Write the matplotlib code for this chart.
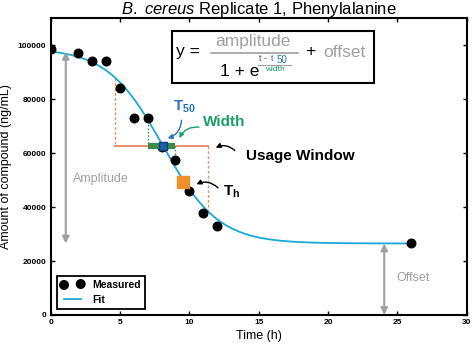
import numpy as np
import matplotlib
matplotlib.use("Agg")
import matplotlib.pyplot as plt
from matplotlib.patches import Rectangle

plt.rcParams['font.family'] = ['Liberation Sans', 'DejaVu Sans']
plt.rcParams['mathtext.fontset'] = 'custom'
plt.rcParams['mathtext.rm'] = 'Liberation Sans'
plt.rcParams['mathtext.it'] = 'Liberation Sans:italic'
plt.rcParams['mathtext.bf'] = 'Liberation Sans:bold'

# Messwerte
time_h = [0, 2, 3, 4, 5, 6, 7, 8, 9, 10, 11, 12, 26]
amount = [98500, 97100, 94000, 94000, 84000, 72900, 72900, 62400, 57500,
          45800, 37900, 32800, 26500]

# Fit-Parameter (sigmoid)
t50 = 8.1
width = 2.0
amplitude = 72400
offset = 26500

width_bar = [7.05, 9.0]
usage_window = [4.64, 11.37]
th_point = [9.52, 49100]

fit_color = '#1aa7dc'
gray = '#a0a0a0'
blue = '#2a73c0'
green = '#1a9e6a'
orange = '#f0902a'
salmon = '#e8906a'


def fit(t):
    return amplitude / (1 + np.exp((t - t50) / width)) + offset


fig = plt.figure(figsize=(4.72, 3.46), dpi=100)
ax = fig.add_axes([0.107, 0.0896, 0.882, 0.858])

tt = np.linspace(0, 26, 300)
ax.plot(tt, fit(tt), color=fit_color, lw=1.3, label='Fit', zorder=3)
ax.scatter(time_h, amount, s=38, color='black', zorder=4, label='Measured')

# Usage window
level = fit(t50)
ax.plot(usage_window, [level, level], color=salmon, lw=1.4, zorder=2)
ax.plot([usage_window[0]] * 2, [fit(usage_window[0]), level], color=salmon,
        lw=1, ls=(0, (2, 1.5)), zorder=2)
ax.plot([usage_window[1]] * 2, [level, fit(usage_window[1])], color=salmon,
        lw=1, ls=(0, (2, 1.5)), zorder=2)

# Width
ax.plot([width_bar[0]] * 2, [fit(width_bar[0]), level], color=green, lw=1,
        ls=(0, (1, 1.5)), zorder=2)
ax.plot([width_bar[1]] * 2, [level, fit(width_bar[1])], color=green, lw=1,
        ls=(0, (1, 1.5)), zorder=2)
ax.plot(width_bar, [level, level], color='#3a8a4a', lw=4.5,
        solid_capstyle='butt', zorder=5)
ax.plot([t50], [level], 's', ms=6, mfc='#1f5fa8', mec='#10407a', zorder=6)

ax.plot([th_point[0]], [th_point[1]], 's', ms=9, color=orange, zorder=5)

# Amplitude / Offset Pfeile
ax.annotate('', xy=(1.1, offset), xytext=(1.1, 97500),
            arrowprops=dict(arrowstyle='<|-|>', color=gray, lw=1.5,
                            mutation_scale=10, shrinkA=0, shrinkB=0))
ax.text(1.59, 50440, 'Amplitude', color=gray, fontsize=9, va='center')
ax.annotate('', xy=(24.05, 0), xytext=(24.05, offset),
            arrowprops=dict(arrowstyle='<|-|>', color=gray, lw=1.5,
                            mutation_scale=10, shrinkA=0, shrinkB=0))
ax.text(24.9, 13540, 'Offset', color=gray, fontsize=9, va='center')

# Beschriftungen
ax.text(8.8, 77000, r'$\mathbf{T}_{\mathbf{50}}$', color=blue, fontsize=11,
        va='center')
ax.annotate('', xy=(8.25, 65200), xytext=(9.45, 73170),
            arrowprops=dict(arrowstyle='-|>', color=blue, lw=1,
                            mutation_scale=7, connectionstyle='arc3,rad=-0.4'))
ax.text(11.0, 71600, 'Width', color=green, fontsize=11, fontweight='bold',
        va='center')
ax.annotate('', xy=(9.2, 64575), xytext=(10.9, 69480),
            arrowprops=dict(arrowstyle='-|>', color=green, lw=1,
                            mutation_scale=7, connectionstyle='arc3,rad=0.4'))
ax.text(14.09, 59040, 'Usage Window', color='black', fontsize=11,
        fontweight='bold', va='center')
ax.annotate('', xy=(11.73, 61510), xytext=(13.42, 60260),
            arrowprops=dict(arrowstyle='-|>', color='black', lw=1,
                            mutation_scale=7, connectionstyle='arc3,rad=0.4'))
ax.text(12.41, 45500, r'$\mathbf{T}_{\mathbf{h}}$', color='black',
        fontsize=11, va='center')
ax.annotate('', xy=(10.34, 47970), xytext=(12.21, 46380),
            arrowprops=dict(arrowstyle='-|>', color='black', lw=1,
                            mutation_scale=7, connectionstyle='arc3,rad=0.4'))

# Formel
ax.add_patch(Rectangle((8.73, 85870), 23.34 - 8.73, 105170 - 85870,
                       fill=False, ec='black', lw=1.5, zorder=5))
ax.text(9.02, 97785, 'y =', fontsize=12.5, va='center')
ax.plot([11.54, 17.82], [96940, 96940], color=gray, lw=1.2)
ax.text(14.62, 101475, 'amplitude', color=gray, fontsize=12.5,
        ha='center', va='center')
ax.text(12.21, 90040, '1 + e', fontsize=12.5, va='center')
ax.text(15.05, 95080, 't -', color='#555555', fontsize=6.5, va='center')
ax.text(15.89, 95080, 't', color=blue, fontsize=6.5, va='center')
ax.text(16.3, 94340, '50', color=blue, fontsize=7, va='center')
ax.plot([14.98, 17.33], [92510, 92510], color=gray, lw=0.8)
ax.text(16.14, 91040, 'width', color=green, fontsize=6, ha='center',
        va='center')
ax.text(18.7, 97785, '+', fontsize=12.5, ha='center', va='center')
ax.text(19.66, 97415, 'offset', color=gray, fontsize=12.5, va='center')

ax.set_xlim(0, 30)
ax.set_ylim(0, 110000)
ax.set_xticks([0, 5, 10, 15, 20, 25, 30])
ax.set_yticks([0, 20000, 40000, 60000, 80000, 100000])
ax.tick_params(direction='in', top=True, right=True, length=3, width=1,
               labelsize=6, pad=3)
for lab in ax.get_xticklabels() + ax.get_yticklabels():
    lab.set_fontweight('bold')
for s in ax.spines.values():
    s.set_linewidth(1.5)

ax.set_xlabel('Time (h)', fontsize=9, labelpad=3)
ax.set_ylabel('Amount of compound (ng/mL)', fontsize=9, labelpad=4)
ax.set_title(r'$\it{B.\ cereus}$ Replicate 1, Phenylalanine', fontsize=12,
             pad=3)

leg = ax.legend(handles=ax.get_legend_handles_labels()[0][::-1],
                loc='lower left', bbox_to_anchor=(0.015, 0.02),
                borderaxespad=0, numpoints=2, scatterpoints=2, fancybox=False,
                edgecolor='black', prop={'weight': 'bold', 'size': 7.5},
                handlelength=2.2, framealpha=1)
leg.get_frame().set_linewidth(1.3)

fig.savefig('out.png', dpi=100)
